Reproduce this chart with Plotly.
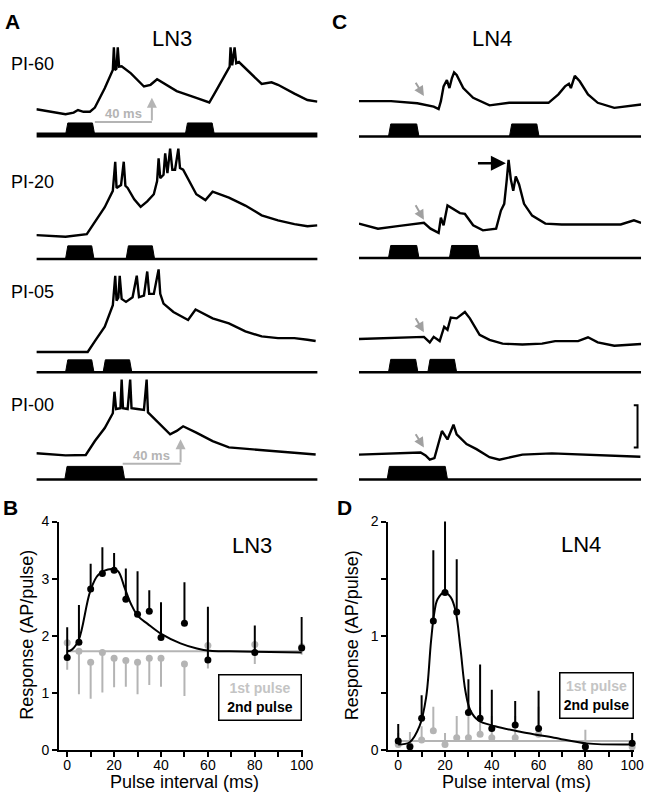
import plotly.graph_objects as go

W, H = 660, 804
FONT = "Liberation Sans, Arial, sans-serif"
GRAY = "#b4b4b4"

# ---- intracellular traces: time (ms) / membrane potential (mV, rel. to rest) ----
a60_t = [0, 8.5, 19.5, 24.9, 27.8, 31.5, 35.8, 39.1, 45.7, 51.1, 51.8, 52.5, 53.5, 54.4, 55.3, 57.0, 63.2, 71.9, 76.3,
         80.7, 85.0, 93.8, 106.9, 115.6, 120.0, 126.6, 129.2, 129.8, 130.9, 132.5, 133.6, 135.4, 141.9, 150.6, 157.2,
         161.5, 172.5, 181.2, 187.8]
a60_v = [0, -0.6, -1.2, -0.8, -0.2, -0.6, -0.6, 0.4, 5.0, 9.3, 14.7, 9.3, 9.6, 14.7, 10.1, 10.2, 8.5, 5.4, 5.8,
         7.1, 6.2, 4.3, 2.7, 1.6, 4.3, 8.5, 10.1, 14.7, 10.4, 14.7, 10.9, 11.2, 8.9, 6.0, 6.4,
         5.8, 3.7, 2.2, 1.8]

a20_t = [0, 8.3, 19.5, 33.7, 39.1, 45.7, 51.1, 52.7, 53.6, 56.6, 58.4, 59.5, 61.0, 65.4, 69.7, 74.1, 78.5, 80.7,
         81.7, 82.8, 85.0, 86.1, 87.6, 89.4, 90.9, 92.7, 94.9, 96.0, 98.1, 106.9, 113.0, 117.8, 128.7, 139.7,
         150.6, 161.5, 172.5, 181.2, 187.8]
a20_v = [0, -0.2, -0.4, 0.2, 3.1, 6.6, 10.5, 17.4, 11.2, 11.9, 17.4, 11.7, 11.2, 8.5, 6.7, 8.0, 9.7, 12.8,
         18.2, 13.5, 14.3, 19.4, 14.7, 20.5, 15.5, 15.5, 20.5, 15.9, 15.5, 9.7, 8.3, 10.3, 8.9, 7.0,
         4.7, 3.5, 2.6, 2.1, 2.3]

a05_t = [0, 19.5, 34.3, 39.1, 45.7, 51.1, 52.7, 53.6, 54.8, 55.7, 57.0, 59.9, 64.3, 67.1, 68.6, 71.9, 74.1, 75.4,
         78.5, 81.7, 82.8, 85.0, 91.6, 101.4, 106.4, 117.8, 128.7, 139.7, 150.6, 161.5, 172.5, 181.2, 186.7]
a05_v = [0, 0, 0, 2.6, 6.0, 11.1, 18.1, 12.2, 12.9, 18.1, 12.6, 11.9, 13.0, 18.1, 13.0, 13.4, 19.1, 13.8,
         13.8, 19.6, 13.8, 11.5, 9.5, 7.6, 10.1, 8.0, 6.8, 4.9, 3.7, 3.3, 3.3, 2.9, 2.6]

a00_t = [0, 19.5, 33.0, 39.1, 45.7, 51.1, 52.2, 53.3, 56.2, 57.0, 57.9, 61.0, 62.7, 63.6, 67.5, 71.9, 73.7, 74.6,
         76.3, 82.8, 89.4, 93.8, 98.1, 106.9, 117.8, 128.7, 150.6, 172.5, 186.7]
a00_v = [0, -0.5, -0.4, 2.9, 6.0, 9.5, 14.6, 10.5, 10.7, 17.5, 10.7, 10.5, 17.5, 10.7, 10.5, 10.3, 17.5, 9.7,
         9.1, 6.8, 4.5, 5.3, 6.4, 4.9, 2.9, 1.4, 0.8, 0.2, -0.3]

c60_t = [0, 21.4, 38.9, 49.8, 53.1, 54.6, 56.4, 58.6, 60.3, 61.9, 63.4, 65.1, 69.5, 76.1, 87.0, 100.1, 113.2, 126.3,
         132.9, 137.3, 139.9, 141.2, 143.8, 147.1, 152.6, 159.1, 170.1, 181.0, 188]
c60_v = [0, 0, -0.5, -1.3, -1.9, 0, 3.5, 5.0, 3.1, 5.4, 6.8, 6.2, 3.1, 0.8, -1.0, -0.4, -0.4, -0.4,
         1.6, 3.5, 4.1, 3.1, 6.0, 4.7, 1.6, -0.4, -1.6, -1.2, -0.8]

c20_t = [0, 12.7, 25.8, 38.9, 43.3, 47.7, 53.1, 54.6, 56.4, 59.0, 63.0, 67.3, 70.6, 76.1, 82.6, 91.4, 94.6, 96.8,
         98.4, 99.7, 101.2, 102.8, 104.5, 106.7, 110.0, 115.4, 124.2, 135.1, 152.6, 174.4, 183.2, 188]
c20_v = [0, -1.2, -0.6, 0, 0.2, -1.2, -2.2, 1.4, -0.4, 4.3, 3.5, 2.5, 2.3, -0.4, -1.6, -1.2, 3.1, 4.7,
         10.1, 15.1, 10.5, 7.8, 11.2, 9.3, 4.7, 1.9, 0, -0.2, -0.2, -0.2, 0.8, 0.2]

c05_t = [0, 21.4, 43.3, 47.2, 49.8, 53.8, 56.8, 59.0, 61.2, 65.1, 70.6, 73.9, 80.4, 87.0, 95.7, 108.9, 122.0,
         130.7, 146.0, 152.6, 159.1, 170.1, 188]
c05_v = [0, 0.2, 0.5, -0.8, 0.5, -0.5, 2.9, 2.2, 5.1, 4.9, 6.4, 4.9, 1.0, -0.2, -1.1, -1.3, -1.1,
         -0.5, -0.5, 0.4, -0.8, -1.6, -1.2]

c00_t = [0, 21.4, 41.1, 44.4, 47.2, 50.3, 52.0, 53.1, 55.3, 59.0, 63.0, 65.1, 71.7, 78.3, 87.0, 93.6, 108.9,
         128.5, 152.6, 187.5]
c00_v = [0, 0.2, 0.5, -0.2, -1.2, -0.8, 1.3, 2.9, 5.6, 3.6, 7.1, 4.8, 2.5, 1.3, -0.6, -1.2, 0,
         0.3, 0, -0.5]

# stimulus pulses (onset, offset) in ms
a60_pulses = [(19.5, 39), (99.5, 119)]
a20_pulses = [(19.5, 38.5), (60, 79)]
a05_pulses = [(19.5, 38.5), (44.6, 63.8)]
a00_pulses = [(19, 59)]
c60_pulses = [(19.7, 40), (100.3, 120)]
c20_pulses = [(19.7, 40), (60.3, 80.4)]
c05_pulses = [(19.7, 39.3), (45.9, 65.1)]
c00_pulses = [(18.8, 59)]

row_labels = ["PI-60", "PI-20", "PI-05", "PI-00"]
scale_mv = 10

# ---- paired-pulse summary ----
pi = [0, 5, 10, 15, 20, 25, 30, 35, 40, 50, 60, 80, 100]

ln3_2nd = [1.62, 1.89, 2.82, 3.09, 3.15, 2.64, 2.38, 2.43, 1.97, 2.22, 1.58, 1.71, 1.79]
ln3_2nd_err = [0.53, 0.65, 0.44, 0.46, 0.30, 0.54, 0.75, 0.37, 0.62, 0.72, 0.93, 0.47, 0.54]
ln3_1st = [1.88, 1.73, 1.54, 1.71, 1.61, 1.57, 1.54, 1.61, 1.61, 1.51, 1.83, 1.85, 1.81]
ln3_1st_err = [0.47, 0.75, 0.64, 0.70, 0.51, 0.46, 0.56, 0.47, 0.50, 0.56, 0.40, 0.34, 0.14]
ln3_1st_mean = 1.73
ln3_fit_x = [0, 2.0, 4.9, 9.8, 13.3, 18.9, 21.7, 24.5, 27.3, 30.1, 34.3, 39.9, 48.3, 55.3, 60.9, 69.2, 100]
ln3_fit_y = [1.73, 1.76, 1.93, 2.78, 3.07, 3.17, 3.13, 2.84, 2.55, 2.35, 2.21, 2.04, 1.87, 1.78, 1.74, 1.73, 1.71]

ln4_2nd = [0.08, 0.03, 0.28, 1.13, 1.38, 1.21, 0.33, 0.28, 0.19, 0.22, 0.19, 0.03, 0.06]
ln4_2nd_err = [0.15, 0.0, 0.20, 0.62, 0.67, 0.46, 0.29, 0.47, 0.34, 0.21, 0.33, 0.0, 0.09]
ln4_1st = [0.05, 0.04, 0.09, 0.17, 0.05, 0.11, 0.11, 0.14, 0.11, 0.11, 0.14, 0.03, 0.03]
ln4_1st_err = [0.10, 0.12, 0.12, 0.21, 0.10, 0.19, 0.24, 0.24, 0.19, 0.19, 0.24, 0.15, 0.04]
ln4_1st_mean = 0.08
ln4_fit_x = [0, 4.9, 9.1, 11.9, 14.0, 15.4, 16.8, 19.6, 22.4, 24.5, 26.6, 28.7, 30.8, 34.3, 41.4, 52.6, 66.6,
             80.6, 100]
ln4_fit_y = [0.05, 0.07, 0.21, 0.46, 0.95, 1.20, 1.32, 1.38, 1.34, 1.22, 0.89, 0.52, 0.35, 0.26, 0.21, 0.16,
             0.11, 0.06, 0.05]


def xd(a, b):
    return [a / W, b / W]


def yd(top, bottom):
    return [1 - bottom / H, 1 - top / H]


fig = go.Figure()
layout = {}
annots = []
PXMV = 4.3  # px per mV

# (t, v, pulses, rest_px, stim_base_px, stim_top_px, column x-domain, stim line width)
rows = [
    (a60_t, a60_v, a60_pulses, 103.3, 129.5, 117.3, (37, 323), 5),
    (a20_t, a20_v, a20_pulses, 231.7, 256, 242.7, (37, 323), 2.5),
    (a05_t, a05_v, a05_pulses, 351, 371.7, 359, (37, 323), 2.5),
    (a00_t, a00_v, a00_pulses, 454.3, 481, 467.7, (37, 323), 2.5),
    (c60_t, c60_v, c60_pulses, 95, 131, 118.3, (365, 652), 2.5),
    (c20_t, c20_v, c20_pulses, 220, 255, 242.3, (365, 652), 2.5),
    (c05_t, c05_v, c05_pulses, 337.7, 371.7, 358.5, (365, 652), 2.5),
    (c00_t, c00_v, c00_pulses, 455.7, 481, 467.7, (365, 652), 2.5),
]

n = 0
trace_axes = []
for t, v, pulses, rest, sb, st, col, sw in rows:
    # trace axis
    n += 1
    k = "" if n == 1 else str(n)
    layout["xaxis" + k] = dict(domain=xd(*col), range=[0, 188], visible=False, anchor="y" + k)
    layout["yaxis" + k] = dict(domain=yd(rest - 22 * PXMV, rest + 6 * PXMV), range=[-6, 22],
                               visible=False, anchor="x" + k)
    trace_axes.append(k)
    fig.add_trace(go.Scatter(x=t, y=v, mode="lines", line=dict(color="black", width=2.4),
                             xaxis="x" + k, yaxis="y" + k, showlegend=False, hoverinfo="skip"))
    # stimulus axis
    n += 1
    k = str(n)
    h = sb - st
    layout["xaxis" + k] = dict(domain=xd(*col), range=[0, 188], visible=False, anchor="y" + k)
    layout["yaxis" + k] = dict(domain=yd(sb - 1.6 * h, sb + 0.6 * h), range=[-0.6, 1.6],
                               visible=False, anchor="x" + k)
    fig.add_trace(go.Scatter(x=[0, 188], y=[0, 0], mode="lines", line=dict(color="black", width=sw),
                             xaxis="x" + k, yaxis="y" + k, showlegend=False, hoverinfo="skip"))
    for on, off in pulses:
        fig.add_trace(go.Scatter(x=[on, on + 1.5, off - 1.5, off, on], y=[0, 1, 1, 0, 0], mode="lines",
                                 fill="toself", fillcolor="black", line=dict(color="black", width=1),
                                 xaxis="x" + k, yaxis="y" + k, showlegend=False, hoverinfo="skip"))

ka1, ka2, ka3, ka4, kc1, kc2, kc3, kc4 = trace_axes

# 40 ms markers in A
for k, y0, x0, x1, yh, ty in [(ka1, -3.0, 39.1, 77.2, 2.7, -1.0), (ka4, -2.5, 57.7, 96.4, 3.3, -0.5)]:
    fig.add_trace(go.Scatter(x=[x0, x1], y=[y0, y0], mode="lines", line=dict(color=GRAY, width=2),
                             xaxis="x" + k, yaxis="y" + k, showlegend=False, hoverinfo="skip"))
    annots.append(dict(x=x1, y=yh, ax=x1, ay=y0, xref="x" + k, yref="y" + k, axref="x" + k, ayref="y" + k,
                       showarrow=True, arrowhead=2, arrowsize=1, arrowwidth=2, arrowcolor=GRAY, text=""))
    annots.append(dict(x=(x0 + x1) / 2, y=ty, xref="x" + k, yref="y" + k, text="<b>40 ms</b>",
                       showarrow=False, font=dict(size=13, color=GRAY, family=FONT)))

# grey arrows in C (onset of hyperpolarisation)
for k, tx, tv, hx, hv in [(kc1, 37.2, 4.7, 43.3, 1.2), (kc2, 37.2, 4.7, 43.3, 0.9),
                          (kc3, 37.2, 5.3, 43.3, 1.6), (kc4, 37.2, 5.2, 43.3, 1.7)]:
    annots.append(dict(x=hx, y=hv, ax=tx, ay=tv, xref="x" + k, yref="y" + k, axref="x" + k, ayref="y" + k,
                       showarrow=True, arrowhead=2, arrowsize=1, arrowwidth=2, arrowcolor="#a0a0a0", text=""))

# black arrow in C PI-20
annots.append(dict(x=97.9, y=14.3, ax=78.3, ay=14.3, xref="x" + kc2, yref="y" + kc2, axref="x" + kc2,
                   ayref="y" + kc2, showarrow=True, arrowhead=2, arrowsize=1.2, arrowwidth=2.5,
                   arrowcolor="black", text=""))

# scale bar
fig.add_trace(go.Scatter(x=[183.1, 185.6, 185.6, 183.1], y=[1.7 + scale_mv, 1.7 + scale_mv, 1.7, 1.7],
                         mode="lines", line=dict(color="black", width=2),
                         xaxis="x" + kc4, yaxis="y" + kc4, showlegend=False, hoverinfo="skip"))


# ---- summary panels B and D ----
def summary(k, xdom, xr, yr, first, first_err, first_down, mean1, second, second_err, fx, fy, minor_y):
    ax_style = dict(showline=True, linecolor="black", linewidth=2, ticks="outside", ticklen=5, tickwidth=2,
                    tickcolor="black", showgrid=False, zeroline=False, fixedrange=True,
                    tickfont=dict(size=14, family=FONT, color="black"))
    layout["xaxis" + k] = dict(domain=xd(*xdom), range=xr, anchor="y" + k, tick0=0, dtick=20,
                               ticklabelstandoff=-4,
                               minor=dict(dtick=10, ticks="outside", ticklen=5, tickwidth=2, tickcolor="black",
                                          showgrid=False), **ax_style)
    ydict = dict(domain=yd(524, 757.3), range=yr, anchor="x" + k, dtick=1, **ax_style)
    if minor_y:
        ydict["minor"] = dict(dtick=0.5, ticks="outside", ticklen=5, tickwidth=2, tickcolor="black",
                              showgrid=False)
    layout["yaxis" + k] = ydict
    xa, ya = "x" + k, "y" + k
    fig.add_trace(go.Scatter(x=[0, 100], y=[mean1, mean1], mode="lines", line=dict(color=GRAY, width=2),
                             xaxis=xa, yaxis=ya, showlegend=False))
    if first_down:
        err = dict(type="data", symmetric=False, array=[0] * len(first_err), arrayminus=first_err,
                   color=GRAY, thickness=2, width=0)
    else:
        err = dict(type="data", symmetric=False, array=first_err, arrayminus=[0] * len(first_err),
                   color=GRAY, thickness=2, width=0)
    fig.add_trace(go.Scatter(x=pi, y=first, mode="markers", marker=dict(color=GRAY, size=7),
                             error_y=err, cliponaxis=False, xaxis=xa, yaxis=ya, showlegend=False))
    fig.add_trace(go.Scatter(x=pi, y=second, mode="markers", marker=dict(color="black", size=7),
                             error_y=dict(type="data", symmetric=False, array=second_err,
                                          arrayminus=[0] * len(second_err), color="black", thickness=2,
                                          width=0),
                             cliponaxis=False, xaxis=xa, yaxis=ya, showlegend=False))
    fig.add_trace(go.Scatter(x=fx, y=fy, mode="lines", line=dict(color="black", width=2, shape="spline"),
                             xaxis=xa, yaxis=ya, showlegend=False))


summary("17", (60, 308), [-3.5, 100.5], [0, 4], ln3_1st, ln3_1st_err, True, ln3_1st_mean,
        ln3_2nd, ln3_2nd_err, ln3_fit_x, ln3_fit_y, False)
summary("18", (395, 645), [-4.2, 100.9], [0, 2], ln4_1st, ln4_1st_err, False, ln4_1st_mean,
        ln4_2nd, ln4_2nd_err, ln4_fit_x, ln4_fit_y, True)


def text(x, y, s, size, bold=False, xanchor="center", angle=0, color="black"):
    annots.append(dict(x=x / W, y=1 - y / H, xref="paper", yref="paper", text="<b>%s</b>" % s if bold else s,
                       showarrow=False, xanchor=xanchor, yanchor="middle", textangle=angle,
                       font=dict(size=size, family=FONT, color=color)))


text(3, 14, "A", 21, True, "left")
text(336, 14, "C", 21, True, "left")
text(1, 510, "B", 21, True, "left")
text(341, 510, "D", 21, True, "left")
text(175, 31.5, "LN3", 22)
text(500, 31.5, "LN4", 22)
text(256, 548, "LN3", 22)
text(591, 547, "LN4", 22)
for lab, y in zip(row_labels, [57, 178, 290, 405.5]):
    text(9, y, lab, 18, xanchor="left")
text(28, 640, "Response (AP/pulse)", 18, angle=-90)
text(358, 640, "Response (AP/pulse)", 18, angle=-90)
text(188, 790, "Pulse interval (ms)", 18)
text(525, 790, "Pulse interval (ms)", 18)

for cx, cy, bw in [(264, 704, 84), (606.5, 701.5, 75)]:
    annots.append(dict(x=cx / W, y=1 - cy / H, xref="paper", yref="paper", showarrow=False,
                       text="<b><span style='color:#c4c4c4'>1st pulse</span><br>2nd pulse</b>",
                       font=dict(size=14, family=FONT, color="black"), align="center",
                       width=bw - 3, height=44, borderpad=0, bordercolor="black", borderwidth=1.5,
                       bgcolor="white", xanchor="center", yanchor="middle"))

layout["annotations"] = annots
fig.update_layout(**layout)
fig.update_layout(width=W, height=H, margin=dict(l=0, r=0, t=0, b=0), plot_bgcolor="rgba(0,0,0,0)",
                  paper_bgcolor="white", showlegend=False, font=dict(family=FONT))

fig.write_html("out.html", config={"displayModeBar": False},
               post_script="document.body.style.margin='0';document.body.style.overflow='hidden';")
